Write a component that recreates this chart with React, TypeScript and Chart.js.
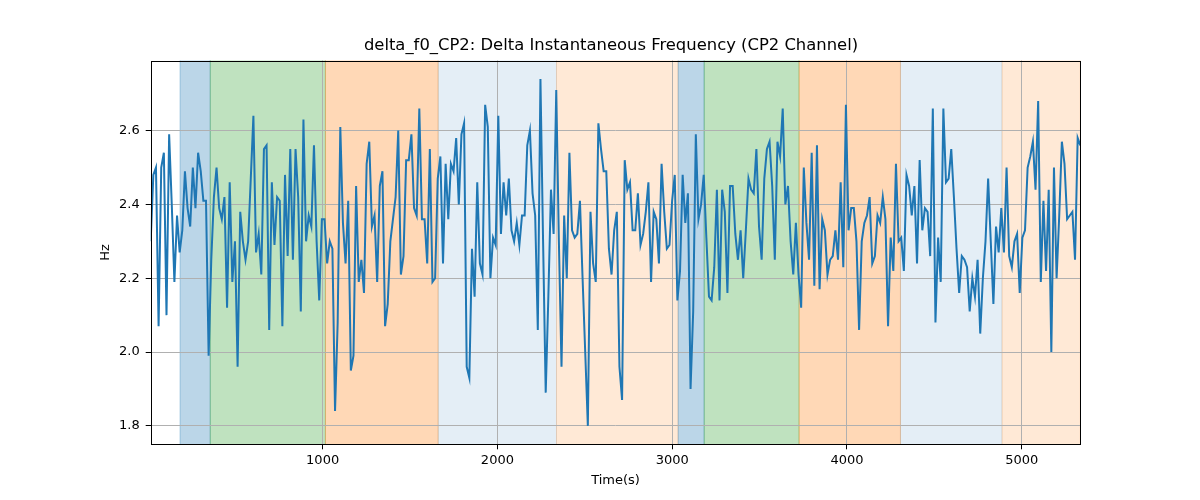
import React, { useEffect, useRef } from "react";
import { Chart, registerables } from "chart.js";

Chart.register(...registerables);

// ---- data ----
const TITLE = "delta_f0_CP2: Delta Instantaneous Frequency (CP2 Channel)";
const X_LABEL = "Time(s)";
const Y_LABEL = "Hz";

const T_START = 16.3;
const T_END = 5335;

const X_TICKS = [1000, 2000, 3000, 4000, 5000];
const Y_TICKS = [1.8, 2.0, 2.2, 2.4, 2.6];
const Y_MIN = 1.75;
const Y_MAX = 2.79;

// Hz values, in time order, split into consecutive stretches
const hzPart1 = [
  2.30, 2.48, 2.50, 2.07, 2.50, 2.54, 2.10, 2.59, 2.40, 2.19, 2.37, 2.27, 2.33, 2.49, 2.39,
  2.34, 2.50, 2.39, 2.54, 2.49, 2.41, 2.41, 1.99, 2.25, 2.42, 2.50, 2.39, 2.36, 2.42, 2.12,
  2.46, 2.19, 2.30, 1.96, 2.38, 2.30, 2.25, 2.30, 2.47, 2.64, 2.27, 2.32, 2.21, 2.55, 2.56,
];
const hzPart2 = [
  2.06, 2.46, 2.29, 2.42, 2.41, 2.07, 2.48, 2.26, 2.55, 2.25, 2.55, 2.42, 2.11, 2.63, 2.30,
  2.37, 2.34, 2.56, 2.30, 2.14, 2.36, 2.36, 2.24, 2.30, 2.28, 1.84, 2.08, 2.61, 2.35, 2.24,
  2.41, 1.95, 1.99, 2.45, 2.19, 2.25, 2.16, 2.51, 2.57, 2.34, 2.37, 2.19, 2.45, 2.49,
];
const hzPart3 = [
  2.07, 2.13, 2.30, 2.36, 2.42, 2.60, 2.21, 2.26, 2.52, 2.52, 2.59, 2.39, 2.37, 2.66, 2.36,
  2.36, 2.24, 2.55, 2.19, 2.20, 2.47, 2.53, 2.24, 2.51, 2.36, 2.51, 2.49, 2.58, 2.40, 2.59,
  2.62, 1.96, 1.93, 2.28, 2.15, 2.46, 2.24, 2.21, 2.67, 2.61, 2.20, 2.31, 2.29,
];
const hzPart4 = [
  2.64, 2.32, 2.46, 2.37, 2.47, 2.33, 2.30, 2.35, 2.29, 2.37, 2.37, 2.56, 2.60, 2.43, 2.37,
  2.06, 2.74, 2.30, 1.89, 2.15, 2.44, 2.32, 2.71, 2.30, 1.96, 2.37, 2.20, 2.54, 2.33, 2.31,
  2.32, 2.41, 2.20, 2.00, 1.80, 2.38, 2.24, 2.19, 2.62, 2.55, 2.49, 2.49, 2.28, 2.21,
];
const hzPart5 = [
  2.33, 2.38, 1.96, 1.87, 2.52, 2.44, 2.46, 2.33, 2.33, 2.43, 2.29, 2.32, 2.38, 2.46, 2.19,
  2.38, 2.36, 2.24, 2.51, 2.38, 2.28, 2.29, 2.41, 2.48, 2.14, 2.22, 2.48, 2.35, 2.43, 1.90,
  2.11, 2.59, 2.36, 2.40, 2.48, 2.31, 2.15, 2.14, 2.23, 2.44, 2.14, 2.44, 2.38, 2.16,
];
const hzPart6 = [
  2.45, 2.45, 2.32, 2.25, 2.33, 2.20, 2.33, 2.47, 2.44, 2.43, 2.55, 2.34, 2.25, 2.47, 2.55,
  2.57, 2.45, 2.25, 2.57, 2.53, 2.66, 2.40, 2.45, 2.30, 2.21, 2.35, 2.21, 2.12, 2.50, 2.35,
  2.25, 2.54, 2.18, 2.56, 2.17, 2.36, 2.33, 2.21, 2.25, 2.26, 2.33, 2.25, 2.46, 2.23,
];
const hzPart7 = [
  2.67, 2.33, 2.39, 2.39, 2.30, 2.06, 2.30, 2.35, 2.37, 2.42, 2.24, 2.26, 2.37, 2.35, 2.42,
  2.36, 2.07, 2.31, 2.22, 2.51, 2.30, 2.31, 2.22, 2.48, 2.45, 2.37, 2.45, 2.24, 2.52, 2.33,
  2.39, 2.38, 2.26, 2.66, 2.08, 2.31, 2.19, 2.66, 2.46, 2.47, 2.55, 2.42, 2.28, 2.16,
];
const hzPart8 = [
  2.26, 2.25, 2.23, 2.11, 2.20, 2.15, 2.25, 2.05, 2.20, 2.30, 2.47, 2.30, 2.13, 2.34, 2.27,
  2.39, 2.27, 2.50, 2.26, 2.23, 2.30, 2.32, 2.16, 2.31, 2.33, 2.50, 2.53, 2.57, 2.44, 2.68,
  2.19, 2.41, 2.22, 2.44, 2.00, 2.50, 2.20, 2.37, 2.57, 2.51, 2.36, 2.37, 2.38, 2.25, 2.58,
  2.56,
];

// shaded phases (time in s)
const SPAN_START = [184, 357, 1016, 1661, 2338, 3034, 3183, 3726, 4306, 4887];
const SPAN_END = [357, 1016, 1661, 2338, 3034, 3183, 3726, 4306, 4887, 5335];
const SPAN_KIND = ["blue", "green", "orange", "paleBlue", "paleOrange", "blue", "green", "orange", "paleBlue", "paleOrange"];

// ---- styles ----
const KIND_COLOR: Record<string, string> = {
  blue: "rgba(31,119,180,0.30)",
  green: "rgba(44,160,44,0.30)",
  orange: "rgba(255,127,14,0.30)",
  paleBlue: "rgba(31,119,180,0.12)",
  paleOrange: "rgba(255,127,14,0.17)",
};
const FONT = "'DejaVu Sans', sans-serif";

export default function App() {
  const ref = useRef<HTMLCanvasElement | null>(null);

  useEffect(() => {
    const canvas = ref.current;
    if (!canvas) return;
    const values = [
      ...hzPart1, ...hzPart2, ...hzPart3, ...hzPart4,
      ...hzPart5, ...hzPart6, ...hzPart7, ...hzPart8,
    ];
    const n = values.length;
    const points = values.map((v, i) => ({
      x: T_START + ((T_END - T_START) * i) / (n - 1),
      y: v,
    }));

    const spansPlugin = {
      id: "spans",
      beforeDraw(chart: any) {
        const { ctx, chartArea, scales } = chart;
        const xs = scales.x;
        ctx.save();
        ctx.fillStyle = "#ffffff";
        ctx.fillRect(0, 0, chart.width, chart.height);
        for (let i = 0; i < SPAN_START.length; i++) {
          const x0 = xs.getPixelForValue(SPAN_START[i]);
          const x1 = xs.getPixelForValue(SPAN_END[i]);
          const col = KIND_COLOR[SPAN_KIND[i]];
          ctx.fillStyle = col;
          ctx.fillRect(x0, chartArea.top, x1 - x0, chartArea.bottom - chartArea.top);
          ctx.strokeStyle = col;
          ctx.lineWidth = 1;
          ctx.beginPath();
          ctx.moveTo(x0, chartArea.top);
          ctx.lineTo(x0, chartArea.bottom);
          ctx.moveTo(x1, chartArea.top);
          ctx.lineTo(x1, chartArea.bottom);
          ctx.stroke();
        }
        ctx.restore();
      },
    };

    const framePlugin = {
      id: "frame",
      afterDraw(chart: any) {
        const { ctx, chartArea } = chart;
        ctx.save();
        ctx.strokeStyle = "#000000";
        ctx.lineWidth = 1;
        const l = Math.round(chartArea.left) + 0.5;
        const r = Math.round(chartArea.right) + 0.5;
        const t = Math.round(chartArea.top) + 0.5;
        const b = Math.round(chartArea.bottom) + 0.5;
        ctx.strokeRect(l, t, r - l, b - t);
        ctx.fillStyle = "#000000";
        ctx.textAlign = "center";
        ctx.textBaseline = "middle";
        ctx.font = `16.4px ${FONT}`;
        ctx.fillText(TITLE, 611, 46);
        ctx.font = `13px ${FONT}`;
        ctx.fillText(X_LABEL, (chartArea.left + chartArea.right) / 2, 481);
        ctx.save();
        ctx.translate(106, (chartArea.top + chartArea.bottom) / 2);
        ctx.rotate(-Math.PI / 2);
        ctx.fillText(Y_LABEL, 0, 0);
        ctx.restore();
        ctx.restore();
      },
    };

    const chart = new Chart(canvas, {
      type: "line",
      data: {
        datasets: [
          {
            data: points,
            borderColor: "#1f77b4",
            borderWidth: 2,
            pointRadius: 0,
            tension: 0,
            fill: false,
          },
        ],
      },
      options: {
        animation: false,
        responsive: false,
        events: [],
        layout: { padding: { left: 0, top: 60.5, right: 119.7, bottom: 0 } },
        plugins: {
          legend: { display: false },
          title: { display: false },
          tooltip: { enabled: false },
        },
        scales: {
          x: {
            type: "linear",
            min: T_START,
            max: T_END,
            afterFit(scale: any) {
              scale.height = 55.7;
            },
            afterBuildTicks(scale: any) {
              scale.ticks = X_TICKS.map((v) => ({ value: v }));
            },
            ticks: {
              color: "#000000",
              font: { family: FONT, size: 13 },
              padding: 4,
              maxRotation: 0,
              callback: (v: any) => String(v),
            },
            grid: {
              color: "#b0b0b0",
              lineWidth: 1,
              tickColor: "#000000",
              tickLength: 5,
              drawTicks: true,
            },
            border: { display: false },
          },
          y: {
            type: "linear",
            min: Y_MIN,
            max: Y_MAX,
            afterFit(scale: any) {
              scale.width = 150.7;
            },
            afterBuildTicks(scale: any) {
              scale.ticks = Y_TICKS.map((v) => ({ value: v }));
            },
            ticks: {
              color: "#000000",
              font: { family: FONT, size: 13 },
              padding: 6,
              callback: (v: any) => Number(v).toFixed(1),
            },
            grid: {
              color: "#b0b0b0",
              lineWidth: 1,
              tickColor: "#000000",
              tickLength: 5,
              drawTicks: true,
            },
            border: { display: false },
          },
        },
      },
      plugins: [spansPlugin, framePlugin],
    });

    return () => chart.destroy();
  }, []);

  return (
    <div style={{ position: "absolute", left: 0, top: 0, width: 1200, height: 500 }}>
      <canvas ref={ref} width={1200} height={500} style={{ width: 1200, height: 500 }} />
    </div>
  );
}
